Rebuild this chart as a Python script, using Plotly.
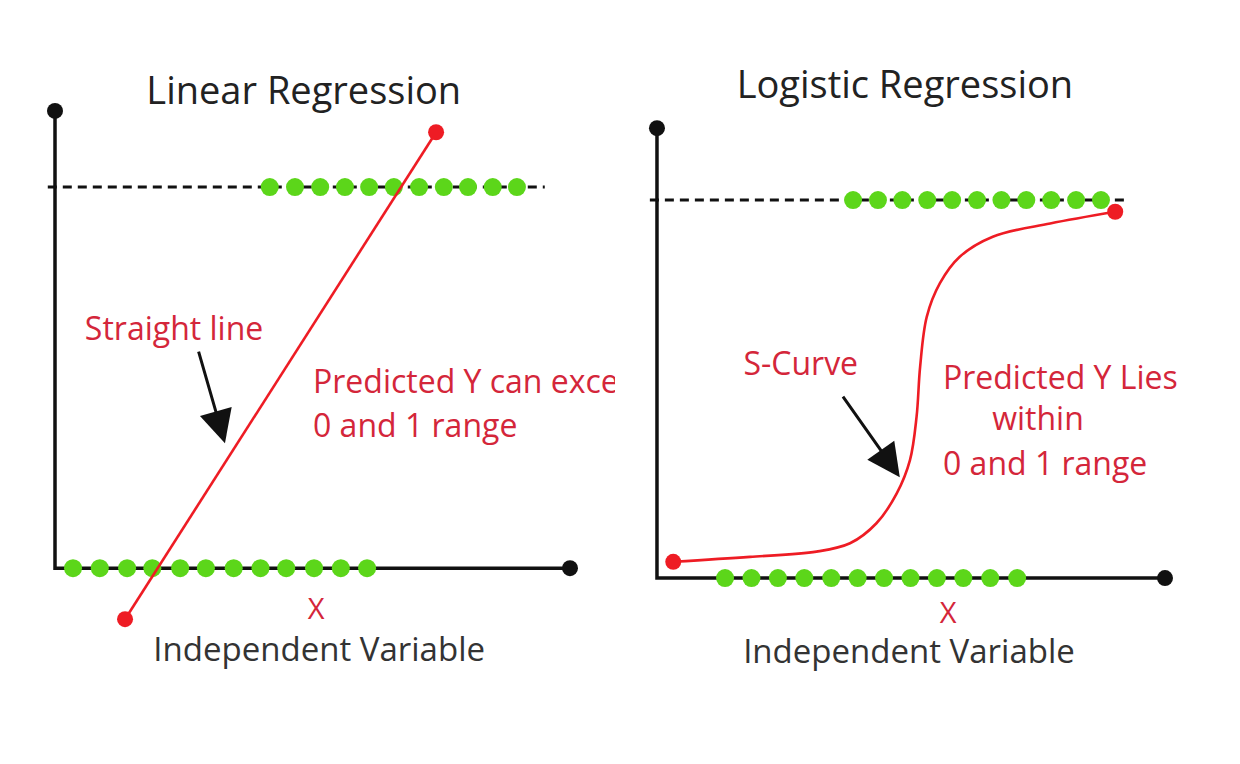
import plotly.graph_objects as go

# ---------------- data (panel units: x-axis runs 0..10, y: 0 = bottom class, 1 = top class)
# Linear regression panel
LIN_AXIS_X = [0, 0, 10]
LIN_AXIS_Y = [1.2, 0, 0]
LIN_DASH_X = [-0.14, 9.51]
LIN_DASH_Y = [1, 1]
LIN_TOP_X = [4.17, 4.66, 5.15, 5.63, 6.10, 6.58, 7.07, 7.55, 8.02, 8.50, 8.97]
LIN_BOTTOM_X = [0.35, 0.87, 1.40, 1.89, 2.43, 2.93, 3.47, 3.99, 4.49, 5.03, 5.55, 6.06]
LIN_FIT_X = [1.36, 7.40]
LIN_FIT_Y = [-0.134, 1.144]

# Logistic regression panel
LOG_AXIS_X = [0, 0, 10]
LOG_AXIS_Y = [1.19, 0, 0]
LOG_DASH_X = [-0.14, 9.27]
LOG_DASH_Y = [1, 1]
LOG_TOP_X = [3.86, 4.35, 4.83, 5.32, 5.81, 6.30, 6.78, 7.27, 7.76, 8.25, 8.74]
LOG_BOTTOM_X = [1.34, 1.86, 2.38, 2.90, 3.43, 3.95, 4.47, 4.99, 5.51, 6.03, 6.56, 7.09]
LOG_FIT_X = [0.32, 1.83, 3.14, 3.80, 4.32, 4.72, 4.98, 5.11, 5.18, 5.31, 5.57, 5.96, 6.61, 7.74, 9.02]
LOG_FIT_Y = [0.043, 0.056, 0.070, 0.092, 0.145, 0.224, 0.312, 0.427, 0.559, 0.691, 0.780, 0.850, 0.903, 0.938, 0.969]

TITLES = ["Linear Regression", "Logistic Regression"]
X_LABEL = "X"
X_SUBLABEL = "Independent Variable"

# ---------------- styles
BLACK = "#111111"
GREEN = "#5cd61a"
RED_LINE = "#ee1c24"
RED_TEXT = "#d4263a"
FONT = "Open Sans"
RED_SIZE = 32

fig = go.Figure()


def panel(xa, ya, axis_x, axis_y, dash_x, dash_y, top_x, bottom_x, fit_x, fit_y, spline):
    fig.add_trace(go.Scatter(x=axis_x, y=axis_y, mode="lines",
                             line=dict(color=BLACK, width=3.5), xaxis=xa, yaxis=ya))
    fig.add_trace(go.Scatter(x=dash_x, y=dash_y, mode="lines",
                             line=dict(color=BLACK, width=3, dash="9px,6px"), xaxis=xa, yaxis=ya))
    fig.add_trace(go.Scatter(x=[axis_x[0], axis_x[-1]], y=[axis_y[0], axis_y[-1]], mode="markers",
                             marker=dict(color=BLACK, size=16), xaxis=xa, yaxis=ya))
    fig.add_trace(go.Scatter(x=top_x, y=[1] * len(top_x), mode="markers",
                             marker=dict(color=GREEN, size=18), xaxis=xa, yaxis=ya))
    fig.add_trace(go.Scatter(x=bottom_x, y=[0] * len(bottom_x), mode="markers",
                             marker=dict(color=GREEN, size=18), xaxis=xa, yaxis=ya))
    fig.add_trace(go.Scatter(x=fit_x, y=fit_y, mode="lines",
                             line=dict(color=RED_LINE, width=2.6, shape="spline" if spline else "linear",
                                       smoothing=1.0),
                             xaxis=xa, yaxis=ya))
    fig.add_trace(go.Scatter(x=[fit_x[0], fit_x[-1]], y=[fit_y[0], fit_y[-1]], mode="markers",
                             marker=dict(color=RED_LINE, size=16), xaxis=xa, yaxis=ya))


panel("x", "y", LIN_AXIS_X, LIN_AXIS_Y, LIN_DASH_X, LIN_DASH_Y, LIN_TOP_X, LIN_BOTTOM_X,
      LIN_FIT_X, LIN_FIT_Y, False)
panel("x2", "y2", LOG_AXIS_X, LOG_AXIS_Y, LOG_DASH_X, LOG_DASH_Y, LOG_TOP_X, LOG_BOTTOM_X,
      LOG_FIT_X, LOG_FIT_Y, True)


def text(xa, ya, x, y, t, pos, size, color):
    fig.add_trace(go.Scatter(x=[x], y=[y], mode="text", text=[t], textposition=pos,
                             textfont=dict(family=FONT, size=size, color=color),
                             cliponaxis=True, xaxis=xa, yaxis=ya))


# left texts
text("x", "y", 0.58, 0.62, "Straight line", "middle right", RED_SIZE, RED_TEXT)
text("x", "y", 5.01, 0.481, "Predicted Y can exceed", "middle right", RED_SIZE, RED_TEXT)
text("x", "y", 5.01, 0.365, "0 and 1 range", "middle right", RED_SIZE, RED_TEXT)
text("x", "y", 5.07, -0.114, X_LABEL, "middle center", 29, RED_TEXT)
text("x", "y", 5.13, -0.221, X_SUBLABEL, "middle center", 33, "#333333")
text("x", "y", 4.83, 1.244, TITLES[0], "middle center", 38, "#222222")

# right texts
text("x2", "y2", 2.83, 0.558, "S-Curve", "middle center", RED_SIZE, RED_TEXT)
text("x2", "y2", 5.63, 0.521, "Predicted Y Lies", "middle right", RED_SIZE, RED_TEXT)
text("x2", "y2", 7.50, 0.412, "within", "middle center", RED_SIZE, RED_TEXT)
text("x2", "y2", 5.63, 0.293, "0 and 1 range", "middle right", RED_SIZE, RED_TEXT)
text("x2", "y2", 5.73, -0.100, X_LABEL, "middle center", 29, RED_TEXT)
text("x2", "y2", 4.96, -0.204, X_SUBLABEL, "middle center", 33, "#333333")
text("x2", "y2", 4.88, 1.296, TITLES[1], "middle center", 38, "#222222")

# arrows
for xr, yr, hx, hy, tx, ty in [("x", "y", 3.30, 0.328, 2.78, 0.572),
                               ("x2", "y2", 4.78, 0.267, 3.64, 0.484)]:
    fig.add_annotation(x=hx, y=hy, ax=tx, ay=ty, xref=xr, yref=yr, axref=xr, ayref=yr,
                       text="", showarrow=True, arrowhead=2, arrowsize=2.2, arrowwidth=3,
                       arrowcolor=BLACK, standoff=0, startstandoff=0)

# the page body adds an 8px offset; the axis ranges below compensate for it
ax_common = dict(visible=False, showgrid=False, zeroline=False, fixedrange=True)
fig.update_layout(
    width=1240, height=764,
    margin=dict(l=0, r=0, t=0, b=0),
    paper_bgcolor="white", plot_bgcolor="rgba(0,0,0,0)",
    showlegend=False,
    xaxis=dict(domain=[0, 607 / 1240], range=[-0.9126, 10.874], **ax_common),
    yaxis=dict(domain=[0, 1], range=[-0.535, 1.470], **ax_common),
    xaxis2=dict(domain=[612 / 1240, 1], range=[-0.728, 11.634], anchor="y2", **ax_common),
    yaxis2=dict(domain=[0, 1], range=[-0.513, 1.508], anchor="x2", **ax_common),
)

fig.write_html("out.html")
